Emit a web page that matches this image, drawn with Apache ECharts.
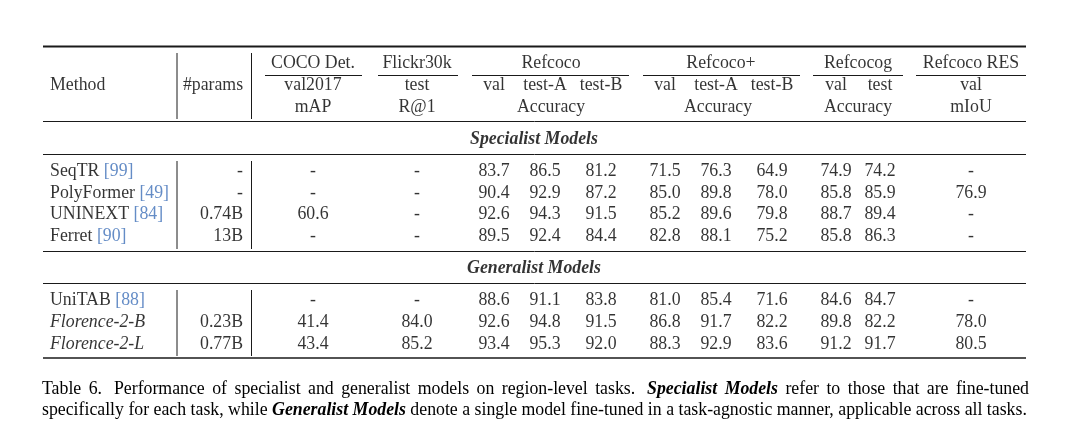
<!DOCTYPE html>
<html><head><meta charset="utf-8">
<script src="https://cdn.jsdelivr.net/npm/echarts@6/dist/echarts.min.js"></script>
<style>html,body{margin:0;padding:0;background:#fff}#c{width:1081px;height:430px}</style>
</head><body><div id="c"></div>
<script>
// ---------------- DATA ----------------
const methods = ['SeqTR', 'PolyFormer', 'UNINEXT', 'Ferret', 'UniTAB', 'Florence-2-B', 'Florence-2-L'];
const citations = ['99', '49', '84', '90', '88', '', ''];
const italicMethods = [false, false, false, false, false, true, true];
const params = ['-', '-', '0.74B', '13B', '', '0.23B', '0.77B'];
const cocoVal2017 = ['-', '-', '60.6', '-', '-', '41.4', '43.4'];
const flickrTest = ['-', '-', '-', '-', '-', '84.0', '85.2'];
const refcocoVal = ['83.7', '90.4', '92.6', '89.5', '88.6', '92.6', '93.4'];
const refcocoTestA = ['86.5', '92.9', '94.3', '92.4', '91.1', '94.8', '95.3'];
const refcocoTestB = ['81.2', '87.2', '91.5', '84.4', '83.8', '91.5', '92.0'];
const refcocoPlusVal = ['71.5', '85.0', '85.2', '82.8', '81.0', '86.8', '88.3'];
const refcocoPlusTestA = ['76.3', '89.8', '89.6', '88.1', '85.4', '91.7', '92.9'];
const refcocoPlusTestB = ['64.9', '78.0', '79.8', '75.2', '71.6', '82.2', '83.6'];
const refcocogVal = ['74.9', '85.8', '88.7', '85.8', '84.6', '89.8', '91.2'];
const refcocogTest = ['74.2', '85.9', '89.4', '86.3', '84.7', '82.2', '91.7'];
const refcocoResVal = ['-', '76.9', '-', '-', '-', '78.0', '80.5'];

const groupHeaders = ['COCO Det.', 'Flickr30k', 'Refcoco', 'Refcoco+', 'Refcocog', 'Refcoco RES'];
const splitHeaders = ['val2017', 'test', 'val', 'test-A', 'test-B', 'val', 'test-A', 'test-B', 'val', 'test', 'val'];
const metricHeaders = ['mAP', 'R@1', 'Accuracy', 'Accuracy', 'Accuracy', 'mIoU'];
const sectionTitles = ['Specialist Models', 'Generalist Models'];
const methodHeader = 'Method';
const paramsHeader = '#params';
const captionLine1 = 'Table 6.  Performance of specialist and generalist models on region-level tasks.  *Specialist *Models refer to those that are fine-tuned';
const captionLine2 = 'specifically for each task, while *Generalist *Models denote a single model fine-tuned in a task-agnostic manner, applicable across all tasks.';

// ---------------- LAYOUT ----------------
const FONT = '"Liberation Serif", "Times New Roman", serif';
const FS = 17.8;
const TXT = '#000';
const RULE = '#1a1a1a';
const CITE = '#3d6fb8';
const L = {
  left: 43, right: 1026,
  methodX: 50, paramsRight: 243, paramsHeaderX: 213,
  valueColX: [313, 417, 494, 545, 601, 665, 716, 772, 836, 880, 971],
  groupX: [313, 417, 551, 721, 858, 971],
  groupSpan: [[265, 362], [378, 458], [472, 629], [643, 800], [813, 903], [916, 1026]],
  metricX: [313, 417, 551, 718, 858, 971],
  headY: [63, 85, 107],
  sectionX: 534, sectionY: [139.5, 268.5],
  rowY: [171, 193, 214.5, 236.5, 300.5, 322, 344],
  vLineX: [177, 251.5],
  vSpans: [[53, 119], [161, 249], [290, 356]],
  hRules: [[46.5, 2], [121.5, 1], [154.5, 1], [251.5, 1], [283.5, 1], [358, 1.5]],
  cmidY: 75.5,
  captionX: 42, captionRight: 1029, captionY: [389, 410]
};

const columns = [cocoVal2017, flickrTest, refcocoVal, refcocoTestA, refcocoTestB,
  refcocoPlusVal, refcocoPlusTestA, refcocoPlusTestB, refcocogVal, refcocogTest, refcocoResVal];

// ---------------- BUILD CELLS ----------------
const cells = [];
function cell(x, y, text, opts) {
  cells.push({ value: [x, y], label: Object.assign({ formatter: text, align: 'center' }, opts || {}) });
}
cell(L.methodX, L.headY[1], methodHeader, { align: 'left' });
cell(L.paramsHeaderX, L.headY[1], paramsHeader);
groupHeaders.forEach((t, i) => cell(L.groupX[i], L.headY[0], t));
splitHeaders.forEach((t, i) => cell(L.valueColX[i], L.headY[1], t));
metricHeaders.forEach((t, i) => cell(L.metricX[i], L.headY[2], t));
sectionTitles.forEach((t, i) => cell(L.sectionX, L.sectionY[i], t, { fontWeight: 'bold', fontStyle: 'italic' }));
methods.forEach((m, r) => {
  const txt = citations[r] ? m + ' {c|[' + citations[r] + ']}' : m;
  cell(L.methodX, L.rowY[r], txt, { align: 'left', fontStyle: italicMethods[r] ? 'italic' : 'normal' });
  if (params[r]) cell(L.paramsRight, L.rowY[r], params[r], { align: 'right' });
  columns.forEach((col, c) => cell(L.valueColX[c], L.rowY[r], col[r]));
});

// ---------------- RULES ----------------
const rules = [];
L.hRules.forEach(([y, w]) => rules.push([L.left, y, L.right, y, w]));
L.groupSpan.forEach(([a, b]) => rules.push([a, L.cmidY, b, L.cmidY, 1]));
L.vLineX.forEach(x => L.vSpans.forEach(([a, b]) => rules.push([x, a, x, b, 1])));

// ---------------- CAPTION (justified) ----------------
const ctx = document.createElement('canvas').getContext('2d');
function fontStr(bi) { return (bi ? 'italic bold ' : '') + FS + 'px ' + FONT; }
function captionElements(line, y, justify) {
  const raw = line.split(/( +)/);
  const words = [];
  const gaps = [];
  for (let i = 0; i < raw.length; i++) {
    if (i % 2 === 0) {
      let w = raw[i]; let bi = false;
      if (w.startsWith('*')) { bi = true; w = w.slice(1); }
      ctx.font = fontStr(bi);
      words.push({ t: w, bi, w: ctx.measureText(w).width });
    } else {
      gaps.push(raw[i].length > 1 ? 1.6 : 1);
    }
  }
  ctx.font = fontStr(false);
  const sp = ctx.measureText(' ').width;
  const wordsW = words.reduce((s, w) => s + w.w, 0);
  const weightSum = gaps.reduce((s, g) => s + g, 0);
  let unit = sp;
  if (justify) unit = (L.captionRight - L.captionX - wordsW) / weightSum;
  const els = [];
  let x = L.captionX;
  words.forEach((w, i) => {
    els.push({ type: 'text', x: x, y: y, silent: true,
      style: { text: w.t, fill: TXT, font: fontStr(w.bi), textVerticalAlign: 'middle', textAlign: 'left' } });
    x += w.w + (i < gaps.length ? gaps[i] * unit : 0);
  });
  return els;
}

const chart = echarts.init(document.getElementById('c'), null, { renderer: 'canvas' });
chart.setOption({
  backgroundColor: '#fff',
  animation: false,
  grid: { left: 0, right: 0, top: 0, bottom: 0 },
  xAxis: { type: 'value', min: 0, max: 1081, show: false },
  yAxis: { type: 'value', min: 0, max: 430, inverse: true, show: false },
  graphic: captionElements(captionLine1, L.captionY[0], true).concat(captionElements(captionLine2, L.captionY[1], false)),
  series: [
    {
      type: 'custom',
      silent: true,
      data: rules,
      renderItem: function (params, api) {
        const p1 = api.coord([api.value(0), api.value(1)]);
        const p2 = api.coord([api.value(2), api.value(3)]);
        return { type: 'line', shape: { x1: p1[0], y1: p1[1], x2: p2[0], y2: p2[1] },
          style: { stroke: RULE, lineWidth: api.value(4) } };
      }
    },
    {
      type: 'scatter',
      silent: true,
      symbolSize: 0,
      data: cells,
      label: {
        show: true, position: 'inside', color: TXT, fontFamily: FONT, fontSize: FS,
        verticalAlign: 'middle',
        rich: { c: { color: CITE, fontFamily: FONT, fontSize: FS } }
      }
    }
  ]
});
</script>
</body></html>
